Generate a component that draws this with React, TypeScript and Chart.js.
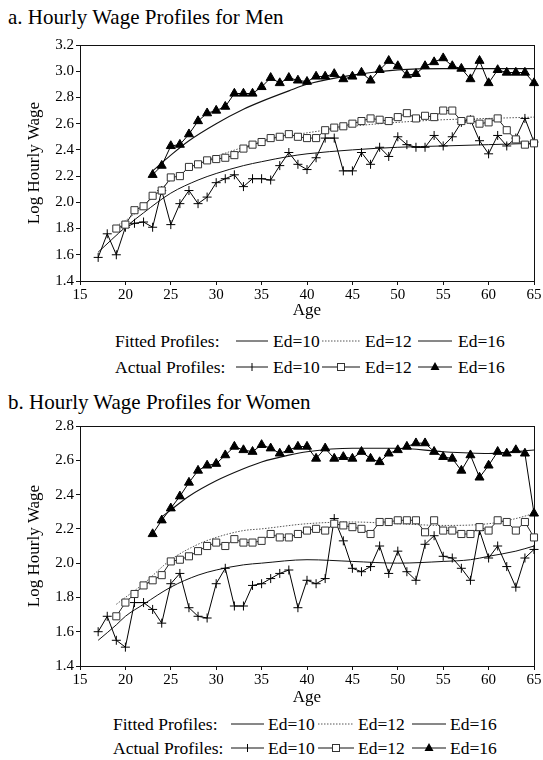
import React, { useEffect, useRef } from "react";
import { Chart, registerables } from "chart.js";

Chart.register(...registerables);

const SERIF = "'Liberation Serif', 'Times New Roman', 'DejaVu Serif', serif";

// Axis settings
const AGE_MIN = 15;
const AGE_MAX = 65;
const AGE_STEP = 5;
const Y_STEP = 0.2;
const MEN_Y_MIN = 1.4;
const MEN_Y_MAX = 3.2;
const WOMEN_Y_MIN = 1.4;
const WOMEN_Y_MAX = 2.8;

// ---------- Men: actual profiles (one value per age starting at *_START) ----------
const MEN_ACT_ED10_START = 17;
const MEN_ACT_ED10 = [
  1.58, 1.76, 1.6, 1.81, 1.84, 1.85, 1.81, 2.09, 1.83, 1.99,
  2.09, 1.99, 2.04, 2.15, 2.18, 2.21, 2.12, 2.18, 2.18, 2.17,
  2.28, 2.38, 2.29, 2.25, 2.34, 2.49, 2.49, 2.24, 2.24, 2.38,
  2.29, 2.42, 2.35, 2.5, 2.44, 2.42, 2.42, 2.51, 2.43, 2.5,
  2.61, 2.63, 2.47, 2.37, 2.51, 2.43, 2.49, 2.64, 2.46,
];
const MEN_ACT_ED12_START = 19;
const MEN_ACT_ED12 = [
  1.8, 1.83, 1.94, 1.97, 2.05, 2.09, 2.19, 2.2, 2.27, 2.29,
  2.32, 2.33, 2.34, 2.36, 2.41, 2.44, 2.46, 2.49, 2.5, 2.52,
  2.5, 2.49, 2.49, 2.55, 2.57, 2.58, 2.6, 2.62, 2.64, 2.63,
  2.62, 2.65, 2.68, 2.64, 2.66, 2.65, 2.7, 2.7, 2.62, 2.63,
  2.6, 2.61, 2.64, 2.55, 2.48, 2.44, 2.45,
];
const MEN_ACT_ED16_START = 23;
const MEN_ACT_ED16 = [
  2.21, 2.28, 2.43, 2.44, 2.52, 2.62, 2.68, 2.7, 2.73, 2.83,
  2.83, 2.83, 2.88, 2.95, 2.91, 2.95, 2.93, 2.92, 2.96, 2.96,
  2.98, 2.94, 2.96, 2.99, 2.93, 3.01, 3.08, 3.04, 2.97, 2.98,
  3.04, 3.07, 3.1, 3.04, 3.02, 2.94, 3.08, 2.91, 3.01, 2.99,
  2.99, 2.99, 2.91,
];

// ---------- Men: fitted profiles ----------
const MEN_FIT_ED10_AGES = [17, 20, 22, 25, 28, 30, 33, 35, 38, 40, 45, 50, 55, 60, 65];
const MEN_FIT_ED10 = [1.62, 1.81, 1.92, 2.07, 2.17, 2.22, 2.28, 2.31, 2.35, 2.37, 2.4, 2.42, 2.43, 2.44, 2.45];
const MEN_FIT_ED12_AGES = [19, 20, 22, 25, 28, 30, 33, 35, 38, 40, 45, 50, 55, 60, 65];
const MEN_FIT_ED12 = [1.82, 1.86, 1.97, 2.17, 2.29, 2.35, 2.42, 2.46, 2.51, 2.53, 2.58, 2.61, 2.63, 2.64, 2.65];
const MEN_FIT_ED16_AGES = [23, 25, 27, 30, 33, 35, 38, 40, 45, 50, 55, 60, 65];
const MEN_FIT_ED16 = [2.24, 2.36, 2.47, 2.6, 2.71, 2.77, 2.85, 2.9, 2.97, 3.01, 3.02, 3.02, 3.02];

// ---------- Women: actual profiles ----------
const WOMEN_ACT_ED10_START = 17;
const WOMEN_ACT_ED10 = [
  1.6, 1.69, 1.55, 1.51, 1.77, 1.77, 1.73, 1.65, 1.88, 1.94,
  1.74, 1.69, 1.68, 1.88, 1.97, 1.75, 1.75, 1.87, 1.88, 1.91,
  1.94, 1.96, 1.74, 1.9, 1.88, 1.91, 2.26, 2.13, 1.97, 1.95,
  1.98, 2.1, 1.94, 2.07, 1.95, 1.9, 2.11, 2.16, 2.04, 2.03,
  1.97, 1.9, 2.19, 2.03, 2.1, 1.98, 1.86, 2.03, 2.08,
];
const WOMEN_ACT_ED12_START = 19;
const WOMEN_ACT_ED12 = [
  1.69, 1.77, 1.82, 1.87, 1.9, 1.93, 2.01, 2.02, 2.04, 2.07,
  2.1, 2.12, 2.1, 2.14, 2.12, 2.12, 2.13, 2.17, 2.15, 2.15,
  2.17, 2.19, 2.2, 2.19, 2.23, 2.22, 2.21, 2.2, 2.17, 2.24,
  2.24, 2.25, 2.25, 2.25, 2.18, 2.25, 2.19, 2.19, 2.17, 2.17,
  2.21, 2.19, 2.25, 2.24, 2.19, 2.24, 2.15,
];
const WOMEN_ACT_ED16_START = 23;
const WOMEN_ACT_ED16 = [
  2.17, 2.25, 2.32, 2.39, 2.47, 2.54, 2.57, 2.58, 2.63, 2.68,
  2.66, 2.65, 2.69, 2.67, 2.64, 2.66, 2.68, 2.68, 2.61, 2.67,
  2.61, 2.62, 2.61, 2.65, 2.61, 2.59, 2.64, 2.66, 2.68, 2.7,
  2.7, 2.65, 2.62, 2.61, 2.54, 2.63, 2.5, 2.57, 2.65, 2.64,
  2.66, 2.64, 2.29,
];

// ---------- Women: fitted profiles ----------
const WOMEN_FIT_ED10_AGES = [17, 19, 20, 22, 25, 28, 30, 33, 35, 40, 45, 50, 55, 58, 60, 63, 65];
const WOMEN_FIT_ED10 = [1.55, 1.64, 1.69, 1.76, 1.86, 1.93, 1.96, 1.99, 2.0, 2.02, 2.01, 2.0, 2.01, 2.02, 2.04, 2.07, 2.1];
const WOMEN_FIT_ED12_AGES = [19, 20, 22, 25, 28, 30, 33, 35, 40, 45, 50, 55, 60, 63, 65];
const WOMEN_FIT_ED12 = [1.76, 1.8, 1.88, 2.02, 2.11, 2.15, 2.19, 2.2, 2.23, 2.24, 2.23, 2.22, 2.23, 2.26, 2.29];
const WOMEN_FIT_ED16_AGES = [24, 25, 27, 30, 33, 35, 38, 40, 45, 50, 55, 60, 65];
const WOMEN_FIT_ED16 = [2.27, 2.31, 2.39, 2.48, 2.55, 2.59, 2.63, 2.65, 2.67, 2.67, 2.65, 2.64, 2.66];

const LEGEND_LABELS = ["Ed=10", "Ed=12", "Ed=16"];

type Pt = { x: number; y: number };
const fromStart = (start: number, vals: number[]): Pt[] => vals.map((y, i) => ({ x: start + i, y }));
const fromAges = (ages: number[], vals: number[]): Pt[] => vals.map((y, i) => ({ x: ages[i], y }));

const framePlugin = {
  id: "frame",
  beforeDatasetsDraw(chart: any) {
    const { ctx, chartArea } = chart;
    const l = Math.round(chartArea.left) + 0.5;
    const t = Math.round(chartArea.top) + 0.5;
    const r = Math.round(chartArea.right) + 0.5;
    const b = Math.round(chartArea.bottom) + 0.5;
    ctx.save();
    ctx.strokeStyle = "#111";
    ctx.lineWidth = 1;
    ctx.strokeRect(l, t, r - l, b - t);
    ctx.restore();
  },
};

type ChartProps = {
  top: number;
  height: number;
  padTop: number;
  yMin: number;
  yMax: number;
  titlePad: number;
  act10: Pt[];
  act12: Pt[];
  act16: Pt[];
  fit10: Pt[];
  fit12: Pt[];
  fit16: Pt[];
};

function WageChart(p: ChartProps) {
  const ref = useRef<HTMLCanvasElement>(null);
  useEffect(() => {
    const tickFont = { family: SERIF, size: 15 };
    const titleFont = { family: SERIF, size: 17 };
    const grid = { drawOnChartArea: false, drawTicks: true, tickLength: 4, color: "#111" };
    const chart = new Chart(ref.current as HTMLCanvasElement, {
      type: "line",
      data: {
        datasets: [
          {
            data: p.act16,
            borderColor: "#000",
            borderWidth: 1,
            pointStyle: "triangle",
            pointRadius: 5.2,
            pointBackgroundColor: "#000",
            pointBorderColor: "#000",
            pointBorderWidth: 1,
            tension: 0,
            clip: false,
          },
          {
            data: p.act12,
            borderColor: "#222",
            borderWidth: 1,
            pointStyle: "rect",
            pointRadius: 5,
            pointBackgroundColor: "#fff",
            pointBorderColor: "#333",
            pointBorderWidth: 1,
            tension: 0,
            clip: false,
          },
          {
            data: p.act10,
            borderColor: "#000",
            borderWidth: 1,
            pointStyle: "cross",
            pointRadius: 4.5,
            pointBorderColor: "#000",
            pointBorderWidth: 1,
            tension: 0,
            clip: false,
          },
          {
            data: p.fit16,
            borderColor: "#111",
            borderWidth: 1.1,
            pointRadius: 0,
            cubicInterpolationMode: "monotone",
            clip: false,
          },
          {
            data: p.fit12,
            borderColor: "#555",
            borderWidth: 1,
            borderDash: [1.5, 1.5],
            pointRadius: 0,
            cubicInterpolationMode: "monotone",
            clip: false,
          },
          {
            data: p.fit10,
            borderColor: "#111",
            borderWidth: 1,
            pointRadius: 0,
            cubicInterpolationMode: "monotone",
            clip: false,
          },
        ] as any,
      },
      options: {
        animation: false,
        responsive: false,
        devicePixelRatio: 1,
        layout: { padding: { top: p.padTop, right: 9, left: 0, bottom: 0 } },
        plugins: { legend: { display: false }, tooltip: { enabled: false } },
        scales: {
          x: {
            type: "linear",
            min: AGE_MIN,
            max: AGE_MAX,
            ticks: { stepSize: AGE_STEP, font: tickFont, color: "#000", padding: 1, maxRotation: 0, autoSkip: false },
            grid,
            border: { display: false },
            title: { display: true, text: "Age", font: titleFont, color: "#000", padding: { top: 0, bottom: p.titlePad } },
            afterFit: (s: any) => {
              s.height = 44;
            },
          },
          y: {
            type: "linear",
            min: p.yMin,
            max: p.yMax,
            ticks: {
              stepSize: Y_STEP,
              font: tickFont,
              color: "#000",
              padding: 2,
              callback: (v: any) => Number(v).toFixed(1),
            },
            grid,
            border: { display: false },
            title: { display: true, text: "Log Hourly Wage", font: titleFont, color: "#000", padding: { top: 24, bottom: 0 } },
            afterFit: (s: any) => {
              s.width = 80;
            },
          },
        },
      } as any,
      plugins: [framePlugin],
    });
    return () => chart.destroy();
  }, []);
  return (
    <canvas
      ref={ref}
      width={543}
      height={p.height}
      style={{ position: "absolute", left: 0, top: p.top, width: 543, height: p.height }}
    />
  );
}

function Sample({ left, width, center, kind }: { left: number; width: number; center: number; kind: string }) {
  const h = 14;
  const m = h / 2;
  const mid = width / 2;
  return (
    <svg style={{ position: "absolute", left, top: center - m }} width={width} height={h}>
      <line
        x1={0}
        y1={m}
        x2={width}
        y2={m}
        stroke={kind === "fit12" ? "#555" : "#111"}
        strokeWidth={1}
        strokeDasharray={kind === "fit12" ? "1.5 1.5" : undefined}
      />
      {kind === "act10" && (
        <line x1={mid} y1={m - 4} x2={mid} y2={m + 4} stroke="#000" strokeWidth={1} />
      )}
      {kind === "act12" && (
        <rect x={mid - 3.5} y={m - 3.5} width={7} height={7} fill="#fff" stroke="#333" strokeWidth={1} />
      )}
      {kind === "act16" && (
        <polygon points={`${mid},${m - 5} ${mid + 4.5},${m + 3} ${mid - 4.5},${m + 3}`} fill="#000" />
      )}
    </svg>
  );
}

type LegendGeom = {
  rows: number[];
  labelX: number;
  samples: [number, number][];
  textX: number[];
};

function Legend({ g }: { g: LegendGeom }) {
  const txt = (x: number, c: number, s: string, key: string) => (
    <div
      key={key}
      style={{ position: "absolute", left: x, top: c - 10, fontSize: 17.5, lineHeight: "20px", whiteSpace: "nowrap" }}
    >
      {s}
    </div>
  );
  const kinds = [
    ["fit10", "fit12", "fit16"],
    ["act10", "act12", "act16"],
  ];
  const heads = ["Fitted Profiles:", "Actual Profiles:"];
  return (
    <>
      {g.rows.map((c, r) => (
        <React.Fragment key={r}>
          {txt(g.labelX, c, heads[r], "h" + r)}
          {LEGEND_LABELS.map((lab, i) => (
            <React.Fragment key={i}>
              <Sample left={g.samples[i][0]} width={g.samples[i][1]} center={c} kind={kinds[r][i]} />
              {txt(g.textX[i], c, lab, "t" + i)}
            </React.Fragment>
          ))}
        </React.Fragment>
      ))}
    </>
  );
}

export default function App() {
  const topLegend: LegendGeom = {
    rows: [341, 367],
    labelX: 115,
    samples: [
      [236, 32],
      [322, 38],
      [418, 34],
    ],
    textX: [273, 365, 458],
  };
  const bottomLegend: LegendGeom = {
    rows: [724, 748],
    labelX: 113,
    samples: [
      [231, 33],
      [318, 36],
      [412, 34],
    ],
    textX: [268, 358, 450],
  };
  return (
    <div
      style={{
        position: "absolute",
        left: 0,
        top: 0,
        width: 543,
        height: 760,
        background: "#fff",
        fontFamily: SERIF,
        color: "#000",
        overflow: "hidden",
      }}
    >
      <div style={{ position: "absolute", left: 8, top: 7, fontSize: 21, lineHeight: "20px", whiteSpace: "nowrap" }}>
        a. Hourly Wage Profiles for Men
      </div>
      <WageChart
        top={30}
        height={295}
        padTop={15}
        yMin={MEN_Y_MIN}
        yMax={MEN_Y_MAX}
        titlePad={4}
        act10={fromStart(MEN_ACT_ED10_START, MEN_ACT_ED10)}
        act12={fromStart(MEN_ACT_ED12_START, MEN_ACT_ED12)}
        act16={fromStart(MEN_ACT_ED16_START, MEN_ACT_ED16)}
        fit10={fromAges(MEN_FIT_ED10_AGES, MEN_FIT_ED10)}
        fit12={fromAges(MEN_FIT_ED12_AGES, MEN_FIT_ED12)}
        fit16={fromAges(MEN_FIT_ED16_AGES, MEN_FIT_ED16)}
      />
      <Legend g={topLegend} />
      <div style={{ position: "absolute", left: 8, top: 392, fontSize: 21, lineHeight: "20px", whiteSpace: "nowrap" }}>
        b. Hourly Wage Profiles for Women
      </div>
      <WageChart
        top={415}
        height={295}
        padTop={11}
        yMin={WOMEN_Y_MIN}
        yMax={WOMEN_Y_MAX}
        titlePad={2}
        act10={fromStart(WOMEN_ACT_ED10_START, WOMEN_ACT_ED10)}
        act12={fromStart(WOMEN_ACT_ED12_START, WOMEN_ACT_ED12)}
        act16={fromStart(WOMEN_ACT_ED16_START, WOMEN_ACT_ED16)}
        fit10={fromAges(WOMEN_FIT_ED10_AGES, WOMEN_FIT_ED10)}
        fit12={fromAges(WOMEN_FIT_ED12_AGES, WOMEN_FIT_ED12)}
        fit16={fromAges(WOMEN_FIT_ED16_AGES, WOMEN_FIT_ED16)}
      />
      <Legend g={bottomLegend} />
    </div>
  );
}
